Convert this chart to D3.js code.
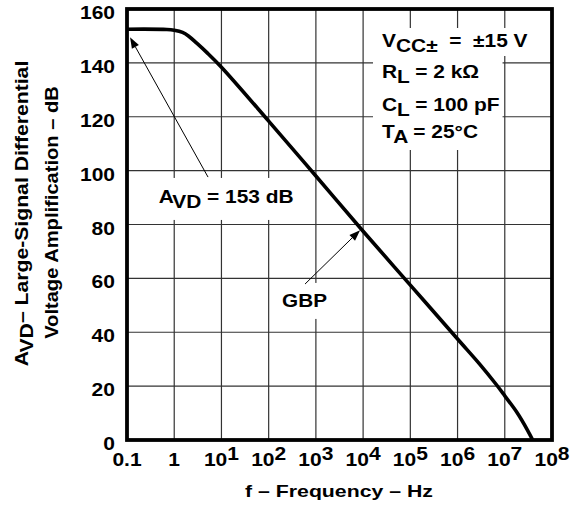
<!DOCTYPE html>
<html>
<head>
<meta charset="utf-8">
<script src="https://cdn.jsdelivr.net/npm/d3@7"></script>
<style>
  html, body { margin: 0; padding: 0; background: #fff; }
  text { font-family: "Liberation Sans", Arial, sans-serif; font-weight: bold; fill: #000; white-space: pre; }
</style>
</head>
<body>
<svg id="chart" width="581" height="507"></svg>
<script>
// ---- data ----
const freqHz  = [0.1, 0.7, 1, 1.5, 2, 3, 5, 10, 100, 1e3, 1e4, 1e5, 1e6, 3e6, 6.6e6, 1e7, 1.8e7, 3e7, 3.9e7];
const gainDb  = [152.5, 152.4, 152.1, 151.3, 150, 147.3, 143.7, 138.4, 118.4, 98, 77.5, 57.5, 37.5, 28, 20.6, 16.4, 10.3, 3.8, 0];
const xTickExp = [-1, 0, 1, 2, 3, 4, 5, 6, 7, 8];
const yTicks  = [0, 20, 40, 60, 80, 100, 120, 140, 160];
const legendLines = [
  [["V", 0], ["CC±", 1], ["  =  ±15 V", 0]],
  [["R", 0], ["L", 1], [" = 2 kΩ", 0]],
  [["C", 0], ["L", 1], [" = 100 pF", 0]],
  [["T", 0], ["A", 1], [" = 25°C", 0]]
];
const avdLabel = [["A", 0], ["VD", 1], [" = 153 dB", 0]];
const avdArrow = {from: [5.2, 97.6], to: [0.116, 149.5], text: [12.6, 88]};
const gbpLabel = [["GBP", 0]];
const gbpArrow = {from: [589, 57.9], to: [8630, 77.9], text: [575, 49.4]};
const xTitle = [["f – Frequency – Hz", 0]];
const yTitle1 = [["A", 0], ["VD", 1], ["– Large-Signal Differential", 0]];
const yTitle2 = [["Voltage Amplification – dB", 0]];

// ---- layout ----
const svg = d3.select("#chart");
const L = 127, R = 552, T = 9, B = 440;
const x = d3.scaleLog().domain([0.1, 1e8]).range([L, R]);
const y = d3.scaleLinear().domain([0, 160]).range([B, T]);

svg.append("rect").attr("width", 581).attr("height", 507).attr("fill", "#fff");

// text with sub/superscripts; positioned manually so stretching keeps the anchor
function richText(g, parts, size, shift, ax, ay, k, anchor) {
  const t = g.append("text").style("font-size", size + "px").attr("x", 0).attr("y", ay);
  let prev = 0;
  parts.forEach(([s, sub]) => {
    const sh = sub ? shift : 0;
    t.append("tspan").attr("dy", sh - prev).text(s);
    prev = sh;
  });
  const L0 = t.node().getComputedTextLength();
  const Lk = L0 * k;
  t.attr("textLength", Lk.toFixed(2)).attr("lengthAdjust", "spacingAndGlyphs");
  const off = anchor === "middle" ? Lk / 2 : anchor === "end" ? Lk : 0;
  t.attr("x", ax - off);
  return t;
}

// grid
const grid = svg.append("g").attr("stroke", "#333").attr("stroke-width", 1.2);
const gridTicks = xTickExp.map(e => Math.pow(10, e));
grid.selectAll("line.v").data(gridTicks).join("line")
  .attr("x1", d => x(d)).attr("x2", d => x(d)).attr("y1", T).attr("y2", B);
grid.selectAll("line.h").data(yTicks).join("line")
  .attr("y1", d => y(d)).attr("y2", d => y(d)).attr("x1", L).attr("x2", R);

const maskLayer = svg.append("g");
const curveLayer = svg.append("g");
const annoLayer = svg.append("g");

// curve
const line = d3.line().x((d, i) => x(freqHz[i])).y((d, i) => y(gainDb[i])).curve(d3.curveCatmullRom.alpha(0.5));
curveLayer.append("path").datum(gainDb).attr("d", line)
  .attr("fill", "none").attr("stroke", "#000").attr("stroke-width", 3.6).attr("stroke-linejoin", "round");

// frame
svg.append("rect").attr("x", L).attr("y", T).attr("width", R - L).attr("height", B - T)
  .attr("fill", "none").attr("stroke", "#000").attr("stroke-width", 3.8);

// y tick labels
const yAxisG = svg.append("g");
yTicks.forEach(v => richText(yAxisG, [[String(v), 0]], 17.5, 0, 115, y(v) + 10, 1.2, "end"));

// x tick labels
const xAxisG = svg.append("g");
xTickExp.forEach(e => {
  const parts = e === -1 ? [["0.1", 0]] : e === 0 ? [["1", 0]] : [["10", 0], [String(e), 1]];
  richText(xAxisG, parts, 17.5, -6, x(Math.pow(10, e)), 466, 1.2, "middle");
});

// axis titles
richText(svg, xTitle, 17, 0, 339, 497, 1.25, "middle");
richText(svg.append("g").attr("transform", "translate(28,0) rotate(-90)"), yTitle1, 17.5, 5, -213.5, 0, 1.21, "middle");
richText(svg.append("g").attr("transform", "translate(58,0) rotate(-90)"), yTitle2, 17.5, 5, -212.5, 0, 1.15, "middle");

// legend
const legG = svg.append("g");
const legBase = [47, 77.5, 110.5, 138];
const legNodes = legendLines.map((parts, i) => richText(legG, parts, 19, 5, 382, legBase[i], 1.1, "start").node());
{
  const b0 = legNodes[0].getBBox();
  maskLayer.append("rect").attr("x", b0.x - 6).attr("y", b0.y - 2).attr("width", b0.width + 10)
    .attr("height", b0.height + 2).attr("fill", "#fff");
  const bs = legNodes.slice(1).map(n => n.getBBox());
  const x0 = d3.min(bs, b => b.x) - 9, x1 = d3.max(bs, b => b.x + b.width) + 3;
  const y0 = b0.y + 1, y1 = d3.max(bs, b => b.y + b.height) + 3;
  maskLayer.append("rect").attr("x", x0).attr("y", y0).attr("width", x1 - x0).attr("height", y1 - y0)
    .attr("fill", "#fff");
}

// annotations
function annotate(parts, a, size, k, padX, padY) {
  const t = richText(annoLayer, parts, size, 5, x(a.text[0]), y(a.text[1]), k, "middle");
  const b = t.node().getBBox();
  maskLayer.append("rect").attr("x", b.x - padX).attr("y", b.y - padY)
    .attr("width", b.width + 2 * padX).attr("height", b.height + 2 * padY).attr("fill", "#fff");
  const x1 = x(a.from[0]), y1 = y(a.from[1]), x2 = x(a.to[0]), y2 = y(a.to[1]);
  const ang = Math.atan2(y2 - y1, x2 - x1);
  const hl = 11, hw = 4;
  const bx = x2 - hl * Math.cos(ang), by = y2 - hl * Math.sin(ang);
  annoLayer.append("line").attr("x1", x1).attr("y1", y1).attr("x2", bx).attr("y2", by)
    .attr("stroke", "#000").attr("stroke-width", 1);
  annoLayer.append("path")
    .attr("d", `M${x2},${y2} L${bx + hw * Math.sin(ang)},${by - hw * Math.cos(ang)} L${bx - hw * Math.sin(ang)},${by + hw * Math.cos(ang)} Z`)
    .attr("fill", "#000");
}
annotate(avdLabel, avdArrow, 18.5, 1.13, 6, 8);
annotate(gbpLabel, gbpArrow, 18, 1.15, 6, 8);
</script>
</body>
</html>
